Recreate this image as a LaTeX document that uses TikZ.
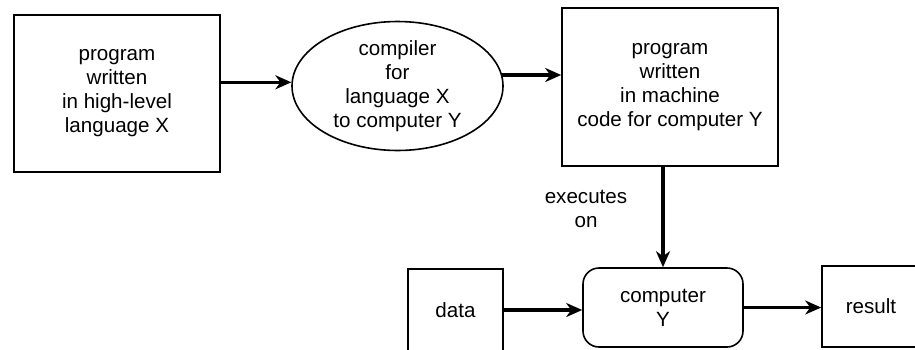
\documentclass[tikz,border=0pt]{standalone}
\usepackage{fontspec}
\setmainfont{Liberation Sans}
\usetikzlibrary{shapes.geometric,arrows.meta}
\begin{document}
\begin{tikzpicture}[x=0.5pt,y=-0.5pt,>={Stealth[length=8pt,width=7pt,inset=2.5pt]},
  every node/.style={font=\fontsize{10.3}{12}\selectfont,align=center},
  box/.style={draw,line width=0.8pt,inner sep=0pt},
  link/.style={->,line width=1.8pt}]
\useasboundingbox (0,0) rectangle (915,349);
\node[box,minimum width=103pt,minimum height=78.5pt] (src) at (117,93.5) {program\\written\\in high-level\\language X};
\node[box,ellipse,minimum width=105.5pt,minimum height=59pt] (comp) at (397.5,86) {compiler\\for\\language X\\to computer Y};
\node[box,minimum width=108pt,minimum height=79pt] (mach) at (670,87) {program\\written\\in machine\\code for computer Y};
\node[box,rounded corners=8pt,minimum width=80pt,minimum height=39.5pt] (cpu) at (663,307.5) {computer\\Y};
\node[box,minimum width=47.5pt,minimum height=41pt] (data) at (455.5,310) {data};
\node[box,minimum width=49pt,minimum height=40.5pt] (res) at (871,306.5) {result};
\node (exec) at (586,209) {executes\\on};
\draw[link] (src.east |- comp.178) -- (comp.178);
\draw[link] (comp.6) -- (comp.6 -| mach.west);
\draw[link] (mach.south -| cpu.north) -- (cpu.north);
\draw[link] (data.east) -- (data.east -| cpu.west);
\draw[link] (cpu.east) -- (cpu.east -| res.west);
\end{tikzpicture}
\end{document}
